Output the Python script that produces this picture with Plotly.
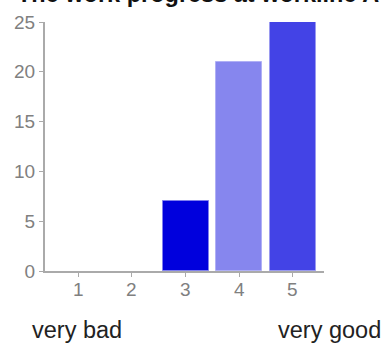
import plotly.graph_objects as go

categories = [1, 2, 3, 4, 5]
values = [0, 0, 7, 21, 25]
bar_colors = ["#0000dd", "#0000dd", "#0000dd", "#8686ee", "#4343e6"]
edge_colors = ["#8080ee", "#8080ee", "#8080ee", "#b0b0f5", "#9a9af0"]
y_ticks = [0, 5, 10, 15, 20, 25]
title_text = "The work progress at workline A"
low_label = "very bad"
high_label = "very good"

W, H = 384, 345
ml, mr, mt, mb = 45, 60, 19, 74
ph = H - mt - mb

fig = go.Figure()
fig.add_trace(go.Bar(
    x=categories, y=values, width=0.86,
    marker=dict(color=bar_colors,
                line=dict(color=edge_colors, width=[1 if v > 0 else 0 for v in values])),
    showlegend=False,
))

axis_font = dict(family="Liberation Sans, Arial, sans-serif", size=19, color="#808080")
fig.update_layout(
    width=W, height=H,
    margin=dict(l=ml, r=mr, t=mt, b=mb, pad=0),
    paper_bgcolor="white", plot_bgcolor="white",
    bargap=0,
    xaxis=dict(range=[0.38, 5.58], tickvals=categories, showticklabels=False,
               showgrid=False, zeroline=False, showline=True, linecolor="#aaaaaa", linewidth=2,
               ticks="outside", ticklen=4, tickcolor="#aaaaaa", fixedrange=True),
    yaxis=dict(range=[0, 25], tickvals=y_ticks, showgrid=False, zeroline=False, showline=True,
               linecolor="#aaaaaa", linewidth=2, ticks="outside", ticklen=4, tickcolor="#aaaaaa",
               tickfont=axis_font, fixedrange=True),
)

def py(pix):
    return (H - mb - pix) / ph

def px(pix):
    return (pix - ml) / (W - ml - mr)

# x tick labels, placed at the category positions on the x axis
for c in categories:
    fig.add_annotation(text=str(c), xref="x", yref="paper", x=c, y=py(289.5),
                       xanchor="center", yanchor="middle", showarrow=False, font=axis_font)

fig.add_annotation(text="<b>" + title_text + "</b>", xref="paper", yref="paper",
                   x=px(15), y=py(6), xanchor="left", yanchor="bottom",
                   showarrow=False, font=dict(family="Liberation Sans, Arial, sans-serif", size=23.5, color="#111111"))
label_font = dict(family="Liberation Sans, Arial, sans-serif", size=23.5, color="#222222")
fig.add_annotation(text=low_label, xref="paper", yref="paper",
                   x=px(30), y=py(331), xanchor="left", yanchor="middle",
                   showarrow=False, font=label_font)
fig.add_annotation(text=high_label, xref="paper", yref="paper",
                   x=px(383), y=py(331), xanchor="right", yanchor="middle",
                   showarrow=False, font=label_font)

fig.write_html("out.html", config={"displayModeBar": False},
               post_script="document.body.style.margin='0';")
